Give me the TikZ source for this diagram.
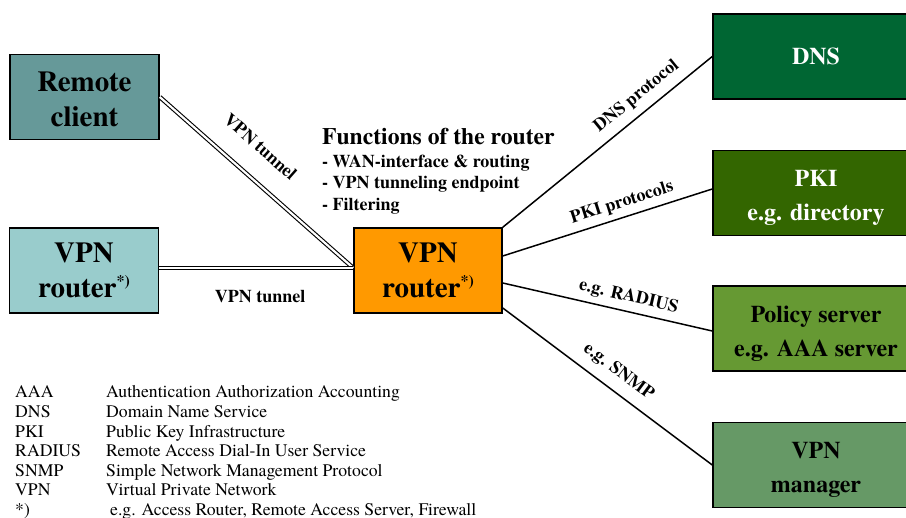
\documentclass[tikz,border=0pt]{standalone}
\usepackage{fontspec}
\setmainfont{texgyretermes-regular.otf}[BoldFont=texgyretermes-bold.otf]
\definecolor{clientfill}{HTML}{669999}
\definecolor{peerfill}{HTML}{99CCCC}
\definecolor{routerfill}{HTML}{FF9900}
\definecolor{dnsfill}{HTML}{006633}
\definecolor{pkifill}{HTML}{336600}
\definecolor{policyfill}{HTML}{669933}
\definecolor{managerfill}{HTML}{669966}
\newcommand\starmark{\raisebox{11pt}{\fontsize{16}{16}\selectfont *)}}
% struts that fix the first baseline and last depth of two-line box labels
\newcommand\topstrut[1]{\rule{0pt}{#1}}
\newcommand\botstrut{\rule[-6pt]{0pt}{0pt}}
\begin{document}
\begin{tikzpicture}[x=1pt,y=-1pt,
  box/.style={draw=black, line width=1.5pt, align=center, inner sep=0pt,
    font=\bfseries\fontsize{29}{35}\selectfont},
  lbox/.style={box, minimum width=149pt, minimum height=85pt},
  rbox/.style={box, minimum width=206pt, minimum height=85pt,
    font=\bfseries\fontsize{24}{34}\selectfont},
  link/.style={line width=1.5pt},
  tunnel/.style={double, double distance=2.2pt, line width=1.1pt},
  lab/.style={font=\bfseries\fontsize{18}{18}\selectfont, inner sep=0pt},
  fitem/.style={anchor=base west, inner sep=0pt, font=\bfseries\fontsize{18}{21.5}\selectfont},
]
\useasboundingbox (0,0) rectangle (906,518);
\clip (0,0) rectangle (906,518);

% left side: tunnel peers
\node[lbox, fill=clientfill] (rc) at (84.5,97) {\topstrut{24.5pt}Remote\\client};
\node[lbox, fill=peerfill] (vl) at (84,270.5) {VPN\\router\starmark};

% central router
\node[lbox, minimum width=148pt, fill=routerfill] (cr) at (428,270.5) {VPN\\router\starmark};

% right side: services
\node[rbox, fill=dnsfill, text=white] (dns) at (816,56.5) {DNS};
\node[rbox, fill=pkifill, text=white] (pki) at (816,193)
  {\topstrut{28pt}PKI\\e.g. directory\botstrut};
\node[rbox, fill=policyfill] (pol) at (816,328.5)
  {\topstrut{28pt}Policy server\\e.g. AAA server\botstrut};
\node[rbox, fill=managerfill] (mgr) at (816,465)
  {\topstrut{28pt}VPN\\manager\botstrut};

% tunnels
\draw[tunnel] (rc.east) -- ([yshift=2.5pt]cr.west)
  node[lab, pos=0.42, sloped, above=22.5pt] {VPN tunnel};
\draw[tunnel] ([yshift=2.5pt]vl.east) -- ([yshift=2.5pt]cr.west)
  node[lab, pos=0.52, below=22pt] {VPN tunnel};

% protocol links
\draw[link] (cr.north east) -- (dns.west)
  node[lab, pos=0.69, sloped, above=8pt] {DNS protocol};
\draw[link] ([yshift=14.5pt]cr.east) -- ([yshift=4pt]pki.west)
  node[lab, pos=0.59, sloped, above=5.5pt] {PKI protocols};
\draw[link] ([yshift=-12.5pt]cr.east) -- ([yshift=-2.5pt]pol.west)
  node[lab, pos=0.585, sloped, above=5.7pt] {e.g. RADIUS};
\draw[link] ([yshift=-37.5pt]cr.east) -- (mgr.west)
  node[lab, pos=0.5, sloped, above=9.5pt] {e.g. SNMP};

% router functions
\node[anchor=base west, inner sep=0pt, font=\bfseries\fontsize{23.6}{26}\selectfont]
  (fhead) at (322,145) {Functions of the router};
\node[fitem] (f1) at (322,167.5) {- WAN-interface \& routing};
\node[fitem] (f2) at (322,189) {- VPN tunneling endpoint};
\node[fitem] (f3) at (322,210.5) {- Filtering};

% abbreviations
\node[anchor=base west, inner sep=0pt, font=\fontsize{17.7}{19.6}\selectfont] (legend) at (15,398)
{\begin{tabular}[t]{@{}p{91pt}@{}l@{}}
AAA & Authentication Authorization Accounting\\
DNS & Domain Name Service\\
PKI & Public Key Infrastructure\\
RADIUS & Remote Access Dial-In User Service\\
SNMP & Simple Network Management Protocol\\
VPN & Virtual Private Network\\
{*)} & \hspace{4pt}e.g. Access Router, Remote Access Server, Firewall
\end{tabular}};
\end{tikzpicture}
\end{document}
